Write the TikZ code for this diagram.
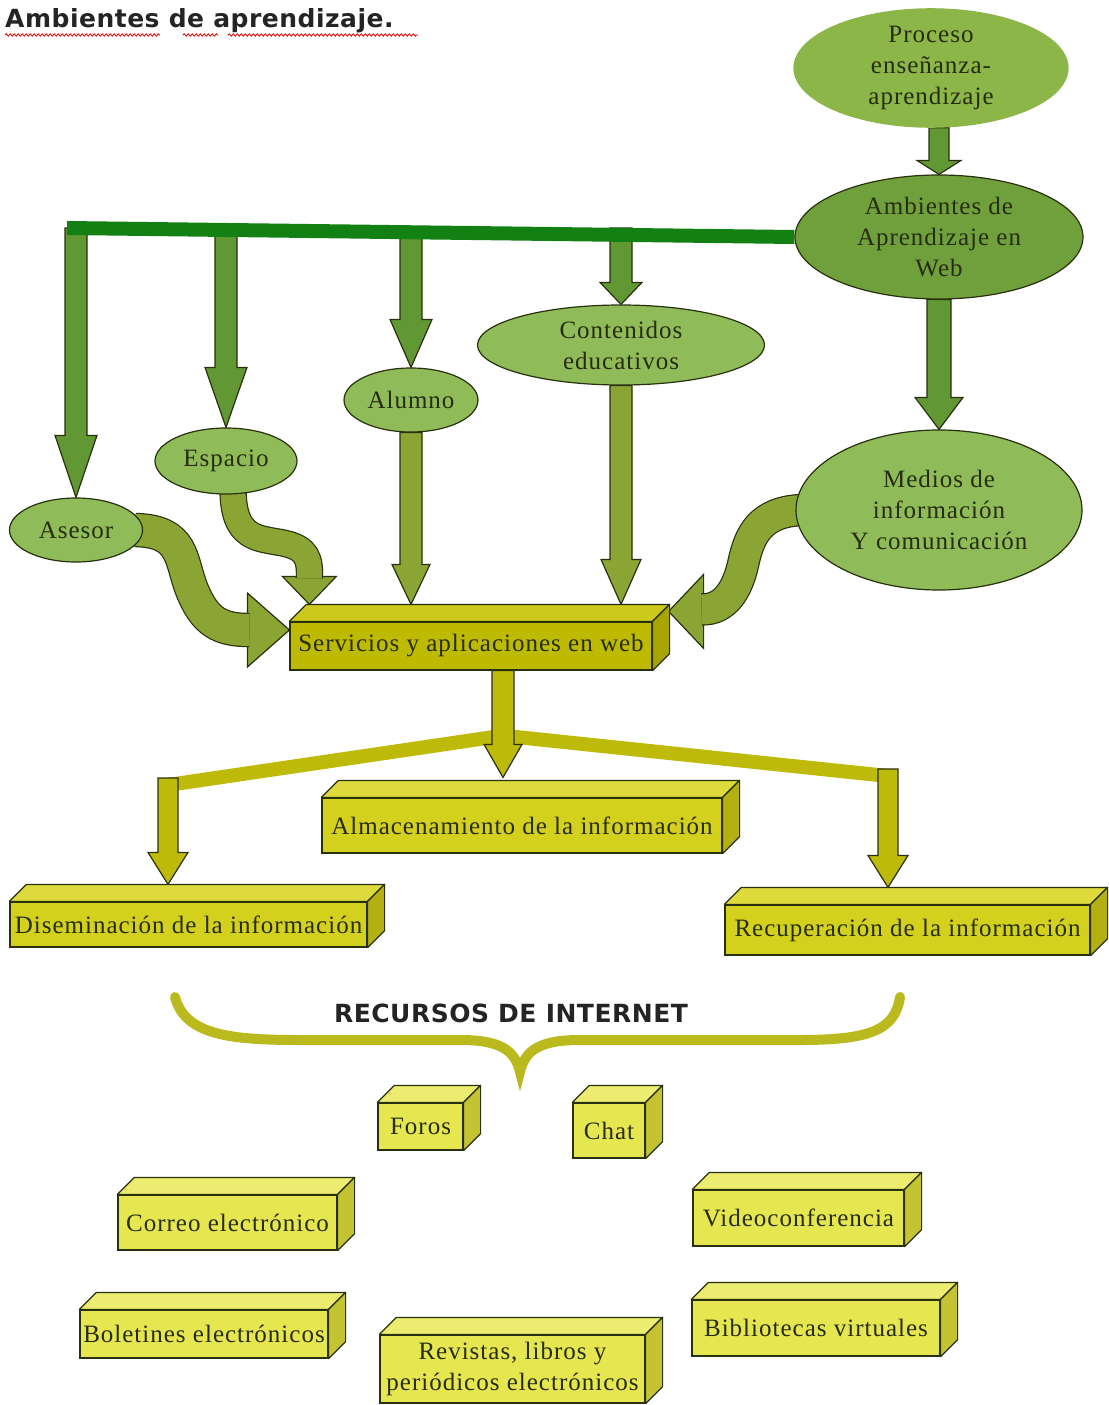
\documentclass[tikz,border=0pt]{standalone}
\usepackage{fontspec}
\setmainfont{Liberation Serif}[LetterSpace=4]
\newfontfamily\sansfont{DejaVu Sans}[LetterSpace=2]
\usetikzlibrary{shapes.geometric,calc,decorations.pathmorphing}
\pgfdeclarelayer{bg}
\pgfsetlayers{bg,main}

\definecolor{edge}{RGB}{40,48,12}
\definecolor{bargreen}{RGB}{18,128,18}
\definecolor{darkgreen}{RGB}{98,152,52}
\definecolor{procgreen}{RGB}{140,182,72}
\definecolor{ambgreen}{RGB}{112,160,60}
\definecolor{lightgreen}{RGB}{143,188,88}
\definecolor{olivegreen}{RGB}{138,165,52}
\definecolor{servfront}{RGB}{190,186,0}
\definecolor{servtop}{RGB}{204,200,28}
\definecolor{servside}{RGB}{168,164,0}
\definecolor{midfront}{RGB}{212,208,30}
\definecolor{midtop}{RGB}{222,218,62}
\definecolor{midside}{RGB}{180,176,20}
\definecolor{smallfront}{RGB}{230,230,80}
\definecolor{smalltop}{RGB}{236,236,112}
\definecolor{smallside}{RGB}{196,196,50}
\definecolor{oliveline}{RGB}{190,186,10}
\definecolor{bracecol}{RGB}{186,186,30}
\definecolor{inktext}{RGB}{38,44,16}
\definecolor{titleink}{RGB}{36,36,36}

% vertical block arrow: start, tip
\newcommand\vblock[3][]{%
  \filldraw[#1] let \p1=#2, \p2=#3 in
    (\x2-\shaftw,\y1) -- (\x2-\shaftw,\y2+\headlen) -- (\x2-\headw,\y2+\headlen)
    -- (\x2,\y2) -- (\x2+\headw,\y2+\headlen) -- (\x2+\shaftw,\y2+\headlen)
    -- (\x2+\shaftw,\y1) -- cycle;}
% head of a curved arrow: tip, angle, half width, length, colour
\newcommand\bhead[5]{%
  \filldraw[blockarrow=#5, shift={#1}, rotate=#2] (0,0) -- (-#4,#3) -- (-#4,-#3) -- cycle;}
% top and side of a box node
\newcommand\boxfaces[2]{%
  \filldraw[face, fill=#2top] (#1.north west) -- ++(17,-17) -- ([shift={(17,-17)}]#1.north east) -- (#1.north east) -- cycle;
  \filldraw[face, fill=#2side] (#1.north east) -- ++(17,-17) -- ([shift={(17,-17)}]#1.south east) -- (#1.south east) -- cycle;}

\begin{document}
\begin{tikzpicture}[x=1pt, y=-1pt,
  every node/.style={font=\fontsize{25}{31}\selectfont, text=inktext, align=center},
  bubble/.style={ellipse, draw=edge, line width=1.2pt, fill=#1, inner sep=0pt},
  block/.style={rectangle, draw=edge, line width=1.2pt, fill=#1, inner sep=0pt},
  face/.style={draw=edge, line width=1.2pt, line join=round},
  blockarrow/.style={draw=edge, line width=1.2pt, line join=miter, fill=#1},
  curvy/.style={draw=olivegreen, line width=#1, preaction={draw=edge, line width=#1+2.4pt}},
  shaftw/.store in=\shaftw, headw/.store in=\headw, headlen/.store in=\headlen,
  shaftw=11pt, headw=21pt, headlen=40pt]
  \useasboundingbox (0,0) rectangle (1108,1405);

  \node[anchor=base west, inner sep=0pt, font=\sansfont\bfseries\fontsize{25}{30}\selectfont, text=titleink] (title) at (5,28) {Ambientes de aprendizaje.};
  \foreach \a/\b in {5/160, 183/218, 228/418}
    \draw[red!85!black, line width=0.8pt, decorate, decoration={snake, amplitude=1.2pt, segment length=4pt}] (\a,35) -- (\b,35);

  % ellipses
  \node[bubble=procgreen, draw=procgreen, minimum width=274pt, minimum height=117pt] (proceso) at (931,68) {Proceso\\enseñanza-\\aprendizaje};
  \node[bubble=ambgreen, minimum width=288pt, minimum height=124pt] (amb) at (939,237) {Ambientes de\\Aprendizaje en\\Web};
  \node[bubble=lightgreen, minimum width=287pt, minimum height=80pt] (cont) at (621,345) {Contenidos\\educativos};
  \node[bubble=lightgreen, minimum width=134pt, minimum height=64pt] (alumno) at (411,400) {Alumno};
  \node[bubble=lightgreen, minimum width=142pt, minimum height=66pt] (espacio) at (226,461) {Espacio};
  \node[bubble=lightgreen, minimum width=133pt, minimum height=64pt] (asesor) at (76,530) {Asesor};
  \node[bubble=lightgreen, minimum width=286pt, minimum height=160pt] (medios) at (939,510) {Medios de\\información\\Y comunicación};

  % boxes
  \node[block=servfront, minimum width=362pt, minimum height=48pt] (serv) at (471,646) {Servicios y aplicaciones en web};
  \node[block=midfront, minimum width=400pt, minimum height=55pt] (alm) at (522,825.5) {Almacenamiento de la información};
  \node[block=midfront, minimum width=357pt, minimum height=45pt] (dis) at (188.5,924.5) {Diseminación de la información};
  \node[block=midfront, minimum width=365pt, minimum height=50pt] (rec) at (907.5,930) {Recuperación de la información};

  \node[font=\sansfont\bfseries\fontsize{25}{30}\selectfont, text=titleink] (recursos) at (511,1013) {RECURSOS DE INTERNET};

  \node[block=smallfront, minimum width=85pt, minimum height=47pt] (foros) at (420.5,1126.5) {Foros};
  \node[block=smallfront, minimum width=72pt, minimum height=55pt] (chat) at (609,1130.5) {Chat};
  \node[block=smallfront, minimum width=219pt, minimum height=55pt] (correo) at (227.5,1222.5) {Correo electrónico};
  \node[block=smallfront, minimum width=211pt, minimum height=56pt] (video) at (798.5,1218) {Videoconferencia};
  \node[block=smallfront, minimum width=248pt, minimum height=48pt] (boletin) at (204,1334) {Boletines electrónicos};
  \node[block=smallfront, minimum width=248pt, minimum height=56pt] (biblio) at (816,1328) {Bibliotecas virtuales};
  \node[block=smallfront, minimum width=265pt, minimum height=68pt] (revistas) at (512.5,1369) {Revistas, libros y\\periódicos electrónicos};

  \foreach \nd/\c in {serv/serv, alm/mid, dis/mid, rec/mid, foros/small, chat/small, correo/small,
      video/small, boletin/small, biblio/small, revistas/small}
    \boxfaces{\nd}{\c};

  \begin{pgfonlayer}{bg}
    % green bar and what hangs from it
    \coordinate (barL) at (67,228);
    \foreach \nd/\hl in {asesor/62pt, espacio/60pt, alumno/48pt, cont/22pt}
      \vblock[blockarrow=darkgreen, headlen=\hl]{(\nd.north |- barL)}{(\nd.north)};
    \draw[bargreen, line width=14pt] (barL) -- (amb.west);
    \vblock[blockarrow=darkgreen, shaftw=10pt, headw=22pt, headlen=14pt]{(proceso.south)}{(amb.north)};
    \vblock[blockarrow=darkgreen, shaftw=12pt, headw=24pt, headlen=32pt]{(amb.south)}{(medios.north)};

    % into the services box
    \bhead{($(serv.west)+(0,-16)$)}{0}{37}{42}{olivegreen}
    \bhead{($(serv.north west)+(20,-17)$)}{-90}{27}{28}{olivegreen}
    \bhead{($(serv.north east)+(16,-10)$)}{180}{37}{35}{olivegreen}
    \draw[curvy=32pt] ([xshift=-8pt]asesor.east) .. controls (185,531) and (180,560) .. (192,590)
      .. controls (205,622) and (220,630) .. ($(serv.west)+(-40,-16)$);
    \draw[curvy=25pt] ([shift={(7,-6)}]espacio.south) .. controls (233,540) and (258,538) .. (283,543)
      .. controls (308,548) and (310,560) .. ($(serv.north west)+(20,-43)$);
    \draw[curvy=30pt] ([xshift=6pt]medios.west) .. controls (760,512) and (750,535) .. (744,560)
      .. controls (738,590) and (725,610) .. ($(serv.north east)+(49,-12)$);
    \vblock[blockarrow=olivegreen, headw=19pt, headlen=40pt]{(alumno.south)}{($(alumno.south |- serv.north)+(0,-17)$)};
    \vblock[blockarrow=olivegreen, headw=20pt, headlen=45pt]{(cont.south)}{($(cont.south |- serv.north)+(0,-17)$)};

    % out of the services box
    \coordinate (apex) at ($(serv.south)+(32,65)$);
    \coordinate (disTop) at (168,785);
    \coordinate (recTop) at (888,776);
    \draw[oliveline, line width=14pt] (disTop) -- (apex) -- (recTop);
    \vblock[blockarrow=oliveline, headw=19pt, headlen=33pt]{(serv.south -| apex)}{($(apex |- alm.north)+(0,-20)$)};
    \vblock[blockarrow=oliveline, shaftw=10pt, headw=20pt, headlen=32pt]{($(disTop)+(0,-7)$)}{($(disTop |- dis.north)+(0,-17)$)};
    \vblock[blockarrow=oliveline, shaftw=10pt, headw=20pt, headlen=32pt]{($(recTop)+(0,-7)$)}{($(recTop |- rec.north)+(0,-17)$)};
  \end{pgfonlayer}

  % brace over the resources
  \draw[bracecol, line width=10pt, line cap=round] (175,997) .. controls (185,1035) and (230,1040) .. (300,1040)
    -- (460,1040) .. controls (500,1040) and (515,1050) .. (520,1072)
    .. controls (525,1050) and (540,1040) .. (580,1040) -- (800,1040)
    .. controls (870,1040) and (895,1030) .. (900,997);
\end{tikzpicture}
\end{document}
